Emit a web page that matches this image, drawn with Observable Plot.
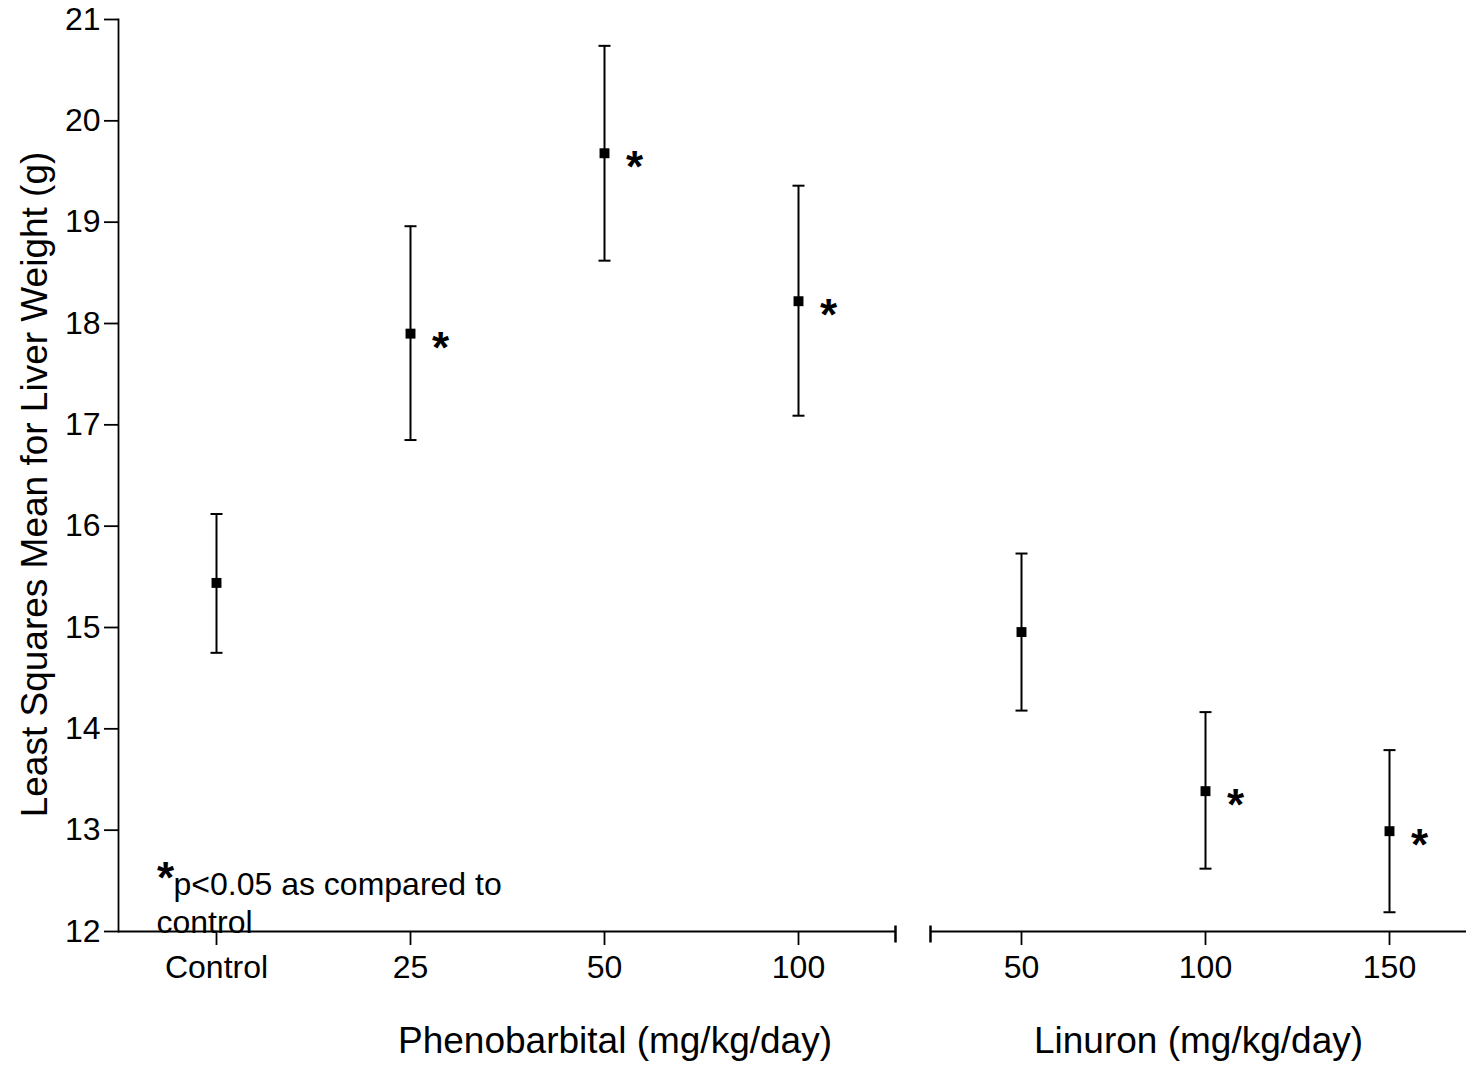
<!DOCTYPE html>
<html>
<head>
<meta charset="utf-8">
<script src="https://cdn.jsdelivr.net/npm/d3@7"></script>
<script src="https://cdn.jsdelivr.net/npm/@observablehq/plot@0.6"></script>
<style>
  body { margin: 0; background: #fff; }
  #chart { display: flex; width: 1466px; height: 1073px; overflow: hidden; background: #fff; }
</style>
</head>
<body>
<div id="chart"></div>
<script>
// ---- data ----
const phenoDoses = ["Control", "25", "50", "100"];
const phenoMean  = [15.44, 17.90, 19.68, 18.22];
const phenoLower = [14.75, 16.85, 18.62, 17.09];
const phenoUpper = [16.12, 18.96, 20.74, 19.36];
const phenoSig   = [false, true, true, true];

const linDoses = ["50", "100", "150"];
const linMean  = [14.955, 13.385, 12.99];
const linLower = [14.18, 12.62, 12.19];
const linUpper = [15.73, 14.165, 13.79];
const linSig   = [false, true, true];

const yTicks = [12, 13, 14, 15, 16, 17, 18, 19, 20, 21];
const yLabel = "Least Squares Mean for Liver Weight (g)";
const phenoTitle = "Phenobarbital (mg/kg/day)";
const linTitle = "Linuron (mg/kg/day)";
const sigMark = "*";
const noteLine1 = "p<0.05 as compared to";
const noteLine2 = "control";

// ---- build tables ----
const phenoRows = phenoDoses.map((d, i) => ({dose: d, mean: phenoMean[i], lower: phenoLower[i], upper: phenoUpper[i], sig: phenoSig[i]}));
const linRows = linDoses.map((d, i) => ({dose: d, mean: linMean[i], lower: linLower[i], upper: linUpper[i], sig: linSig[i]}));

const FONT = "'Liberation Sans', Arial, Helvetica, sans-serif";
const H = 1073, MT = 19, MB = 142;
const yDomain = [12, 21];

// line symbols for axis-break end ticks and error-bar caps
const vbar = {
  draw(context, size) {
    const r = Math.sqrt(size / Math.PI);
    context.moveTo(0, -r);
    context.lineTo(0, r);
  }
};
const hbar = {
  draw(context, size) {
    const r = Math.sqrt(size / Math.PI);
    context.moveTo(-r, 0);
    context.lineTo(r, 0);
  }
};

function dataMarks(rows) {
  return [
    Plot.ruleX(rows, {x: "dose", y1: "lower", y2: "upper", stroke: "black", strokeWidth: 2}),
    Plot.dot(rows, {x: "dose", y: "upper", symbol: hbar, r: 6, stroke: "black", strokeWidth: 2, fill: "none"}),
    Plot.dot(rows, {x: "dose", y: "lower", symbol: hbar, r: 6, stroke: "black", strokeWidth: 2, fill: "none"}),
    Plot.dot(rows, {x: "dose", y: "mean", symbol: "square", r: 5.6, fill: "black", stroke: "none"}),
    Plot.text(rows.filter(d => d.sig), {x: "dose", y: "mean", text: () => sigMark, dx: 30, dy: 15,
      fontSize: 44, fontWeight: "bold", textAnchor: "middle", lineAnchor: "middle", fill: "black"})
  ];
}

const left = Plot.plot({
  width: 912, height: H,
  marginLeft: 118, marginRight: 17, marginTop: MT, marginBottom: MB,
  style: {fontFamily: FONT, background: "white", color: "black", overflow: "visible"},
  x: {type: "point", domain: phenoDoses, padding: 0.5},
  y: {domain: yDomain},
  marks: [
    Plot.frame({anchor: "left", stroke: "black", strokeWidth: 1.8}),
    Plot.ruleY([12], {stroke: "black", strokeWidth: 1.8}),
    Plot.axisY({ticks: yTicks, tickSize: 14, tickPadding: 4, fontSize: 32, label: null, strokeWidth: 1.8, tickFormat: d => String(d)}),
    Plot.text([yLabel], {text: d => d, frameAnchor: "left", rotate: -90, dx: -83, dy: 9, fontSize: 37, textAnchor: "middle", lineAnchor: "middle", fill: "black"}),
    Plot.axisX({tickSize: 14, tickPadding: 10, fontSize: 32, label: null, strokeWidth: 1.8}),
    Plot.dot([0], {frameAnchor: "bottom-right", symbol: vbar, r: 8.5, dy: 2.5, stroke: "black", strokeWidth: 2.5, fill: "none"}),
    ...dataMarks(phenoRows),
    Plot.text([phenoTitle], {text: d => d, frameAnchor: "bottom", dx: 108, dy: 121, fontSize: 37, fill: "black"}),
    Plot.text([sigMark], {text: d => d, frameAnchor: "bottom-left", dx: 47, dy: -53, fontSize: 44, fontWeight: "bold", textAnchor: "middle", lineAnchor: "middle", fill: "black"}),
    Plot.text([noteLine1], {text: d => d, frameAnchor: "bottom-left", dx: 55, dy: -46.6, fontSize: 32, textAnchor: "start", lineAnchor: "middle", fill: "black"}),
    Plot.text([noteLine2], {text: d => d, frameAnchor: "bottom-left", dx: 38, dy: -9, fontSize: 32, textAnchor: "start", lineAnchor: "middle", fill: "black"})
  ]
});

const right = Plot.plot({
  width: 554, height: H,
  marginLeft: 18, marginRight: 0, marginTop: MT, marginBottom: MB,
  style: {fontFamily: FONT, background: "white", color: "black", overflow: "visible"},
  x: {type: "point", domain: linDoses, padding: 0.45, align: 0.54},
  y: {domain: yDomain, axis: null},
  marks: [
    Plot.ruleY([12], {stroke: "black", strokeWidth: 1.8}),
    Plot.axisX({tickSize: 14, tickPadding: 10, fontSize: 32, label: null, strokeWidth: 1.8}),
    Plot.dot([0], {frameAnchor: "bottom-left", symbol: vbar, r: 8.5, dy: 2.5, stroke: "black", strokeWidth: 2.5, fill: "none"}),
    ...dataMarks(linRows),
    Plot.text([linTitle], {text: d => d, frameAnchor: "bottom", dx: 0, dy: 121, fontSize: 37, fill: "black"})
  ]
});

document.getElementById("chart").append(left, right);
</script>
</body>
</html>
